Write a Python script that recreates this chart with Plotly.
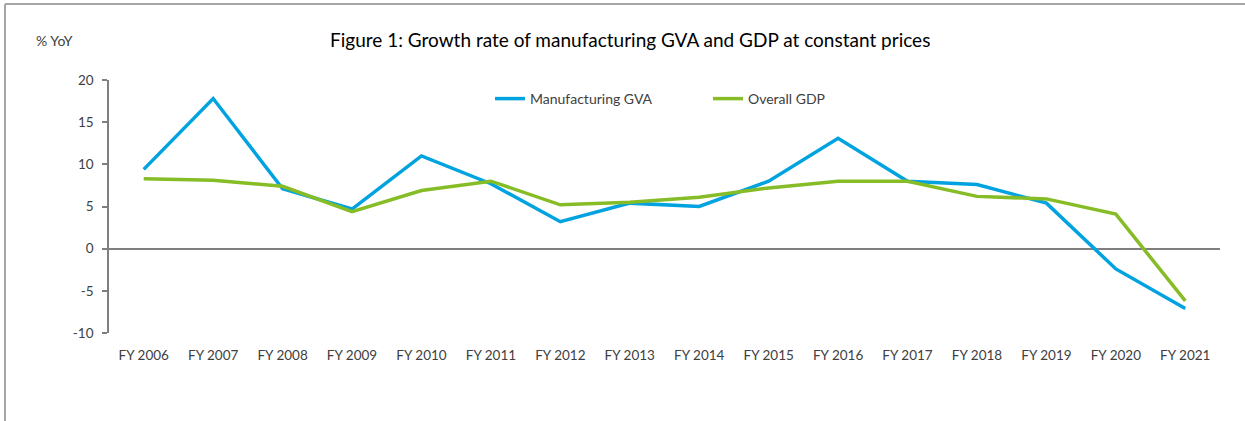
import plotly.graph_objects as go

categories = ["FY 2006", "FY 2007", "FY 2008", "FY 2009", "FY 2010", "FY 2011", "FY 2012", "FY 2013",
              "FY 2014", "FY 2015", "FY 2016", "FY 2017", "FY 2018", "FY 2019", "FY 2020", "FY 2021"]
manufacturing_gva = [9.4, 17.8, 7.1, 4.7, 11.0, 7.7, 3.2, 5.4, 5.0, 8.0, 13.1, 8.0, 7.6, 5.4, -2.4, -7.1]
overall_gdp = [8.3, 8.1, 7.4, 4.4, 6.9, 8.0, 5.2, 5.5, 6.1, 7.2, 8.0, 8.0, 6.2, 5.9, 4.1, -6.2]
y_ticks = [-10, -5, 0, 5, 10, 15, 20]
y_tick_labels = ["-10", "-5", "0", "5", "10", "15", "20"]

W, H = 1245, 421
L, R, T, B = 109, 25, 80, 88
FONT = "Lato"
TXT = "#404040"
GRAY = "#7f7f7f"

def px_x(p):
    return (p - L) / (W - L - R)

def px_y(p):
    return 1 - (p - T) / (H - T - B)

fig = go.Figure()
fig.add_trace(go.Scatter(x=categories, y=manufacturing_gva, mode="lines", name="Manufacturing GVA",
                         line=dict(color="#00A3E0", width=3.5), legend="legend"))
fig.add_trace(go.Scatter(x=categories, y=overall_gdp, mode="lines", name="Overall GDP",
                         line=dict(color="#86BC25", width=3.5), legend="legend2"))

leg_common = dict(orientation="h", yanchor="middle", xanchor="left",
                  font=dict(family=FONT, size=14, color=TXT), bgcolor="rgba(0,0,0,0)")

fig.update_layout(
    width=W, height=H,
    margin=dict(l=L, r=R, t=T, b=B),
    paper_bgcolor="white", plot_bgcolor="white",
    font=dict(family=FONT, size=13, color=TXT),
    showlegend=True,
    legend=dict(x=px_x(490), y=px_y(99), **leg_common),
    legend2=dict(x=px_x(708), y=px_y(99), **leg_common),
    xaxis=dict(type="category", range=[-0.5, 15.5], showgrid=False, showline=False,
               ticks="", ticklabelstandoff=12, tickfont=dict(size=13.5, color=TXT), fixedrange=True),
    yaxis=dict(range=[-10, 20], tickvals=y_ticks, ticktext=y_tick_labels, showgrid=False,
               showline=True, linecolor=GRAY,
               linewidth=1.5, ticks="outside", ticklen=5, tickcolor=GRAY, tickwidth=1.5,
               zeroline=True, zerolinecolor=GRAY, zerolinewidth=2,
               ticklabelstandoff=6, tickfont=dict(size=13.5, color=TXT), fixedrange=True),
    annotations=[
        dict(text="Figure 1: Growth rate of manufacturing GVA and GDP at constant prices",
             xref="paper", yref="paper", x=px_x(630), y=px_y(39), xanchor="center", yanchor="middle",
             showarrow=False, font=dict(family=FONT, size=19, color="#000000")),
        dict(text="% YoY", xref="paper", yref="paper", x=px_x(34), y=px_y(40),
             xanchor="left", yanchor="middle", showarrow=False,
             font=dict(family=FONT, size=14, color=TXT)),
    ],
    shapes=[
        dict(type="line", xref="paper", yref="paper", x0=px_x(5), x1=px_x(1245), y0=px_y(4), y1=px_y(4),
             line=dict(color="#a6a6a6", width=2)),
        dict(type="line", xref="paper", yref="paper", x0=px_x(5), x1=px_x(5), y0=px_y(4), y1=px_y(421),
             line=dict(color="#a6a6a6", width=2)),
    ],
)

fig.write_html("out.html")
